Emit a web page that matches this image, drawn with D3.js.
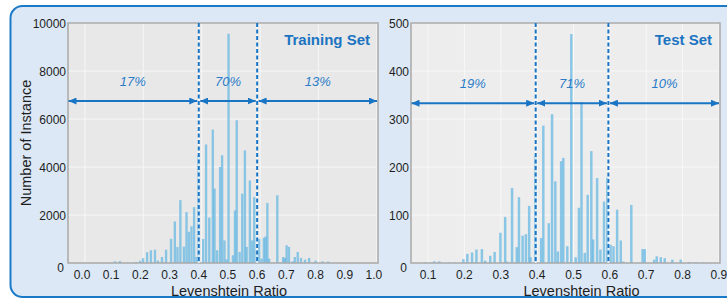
<!DOCTYPE html>
<html>
<head>
    <meta charset="utf-8">
    <title>Levenshtein Ratio histograms</title>
    <script src="https://d3js.org/d3.v7.min.js" charset="utf-8"></script>
</head>
<body>
    <style>
        html,
        body {
            margin: 0;
            padding: 0;
            background: #ffffff;
        }
        text {
            font-family: "Liberation Sans", Arial, sans-serif;
        }
        .tick-label {
            font-size: 12px;
            fill: #1e1e1e;
        }
        .axis-title {
            font-size: 14.5px;
            fill: #1e1e1e;
        }
        .panel-title {
            font-size: 15px;
            font-weight: bold;
            fill: #1b74c2;
        }
        .pct {
            font-size: 13px;
            font-style: italic;
            fill: #2a7cc8;
        }
    </style>
    <script>
      // Training set histogram (ratio, count)
      var trainRatio = [0.113, 0.130, 0.185, 0.199, 0.209, 0.223, 0.236, 0.250, 0.260, 0.274,
                        0.288, 0.305, 0.318, 0.327, 0.337, 0.349, 0.358, 0.366, 0.375, 0.384,
                        0.392, 0.399, 0.415, 0.425, 0.436, 0.448, 0.454, 0.463, 0.473, 0.480,
                        0.488, 0.495, 0.502, 0.517, 0.524, 0.530, 0.540, 0.549, 0.558, 0.564,
                        0.575, 0.583, 0.590, 0.599, 0.607, 0.615, 0.623, 0.629, 0.635, 0.641,
                        0.669, 0.689, 0.695, 0.701, 0.709, 0.722, 0.729, 0.739, 0.750, 0.764,
                        0.778, 0.800, 0.824, 0.843];
      var trainCount = [70, 80, 40, 90, 200, 450, 530, 555, 100, 250,
                        555, 1010, 1730, 670, 2620, 680, 2120, 1300, 1530, 2330,
                        250, 4500, 1000, 4940, 1890, 5560, 3100, 530, 4000, 4490,
                        940, 150, 9550, 320, 2190, 5950, 460, 2890, 4690, 670,
                        3440, 940, 2750, 530, 1010, 180, 1050, 1100, 2500, 180,
                        2820, 250, 210, 740, 670, 70, 250, 460, 210, 140,
                        210, 100, 70, 60];

      // Test set histogram (ratio, count)
      var testRatio = [0.092, 0.117, 0.131, 0.156, 0.174, 0.197, 0.208, 0.221, 0.233, 0.248,
                       0.257, 0.271, 0.283, 0.299, 0.312, 0.317, 0.331, 0.344, 0.350, 0.360,
                       0.369, 0.378, 0.382, 0.395, 0.411, 0.417, 0.432, 0.441, 0.450, 0.457,
                       0.466, 0.472, 0.483, 0.494, 0.506, 0.515, 0.522, 0.531, 0.539, 0.549,
                       0.554, 0.565, 0.574, 0.584, 0.593, 0.602, 0.610, 0.620, 0.630, 0.637,
                       0.659, 0.690, 0.696, 0.722, 0.729, 0.740, 0.751, 0.772, 0.795, 0.818,
                       0.837, 0.859];
      var testCount = [1, 3.5, 3.5, 1, 1, 8, 19, 22, 28, 29,
                       5, 15, 23, 63, 96, 3, 156, 33, 137, 57,
                       60, 119, 12, 222, 52, 286, 83, 310, 170, 24,
                       212, 219, 35, 477, 12, 115, 335, 21, 142, 233,
                       49, 177, 28, 128, 178, 38, 35, 111, 47, 3,
                       121, 29, 29, 7, 14, 12, 10, 7, 7, 2,
                       2, 1];

      // Axis ticks and split annotations
      var trainXTicks = [0.0, 0.1, 0.2, 0.3, 0.4, 0.5, 0.6, 0.7, 0.8, 0.9, 1.0];
      var testXTicks = [0.1, 0.2, 0.3, 0.4, 0.5, 0.6, 0.7, 0.8, 0.9];
      var trainYTicks = [0, 2000, 4000, 6000, 8000, 10000];
      var testYTicks = [0, 100, 200, 300, 400, 500];
      var trainSplits = [0.4, 0.6];
      var testSplits = [0.396, 0.596];
      var trainShares = ["17%", "70%", "13%"];
      var testShares = ["19%", "71%", "10%"];

      var svg = d3.select("body")
                  .append("svg")
                  .attr("width", 727)
                  .attr("height", 301);

      // arrow head marker
      svg.append("defs").append("marker")
         .attr("id", "head")
         .attr("viewBox", "0 0 8 7")
         .attr("refX", 8)
         .attr("refY", 3.5)
         .attr("markerWidth", 8)
         .attr("markerHeight", 7)
         .attr("markerUnits", "userSpaceOnUse")
         .attr("orient", "auto-start-reverse")
         .append("path")
         .attr("d", "M0,0 L8,3.5 L0,7 z")
         .attr("fill", "#1a74c4");

      // outer rounded frame
      svg.append("rect")
         .attr("x", 10.5)
         .attr("y", 6)
         .attr("width", 740)
         .attr("height", 291)
         .attr("rx", 12)
         .attr("fill", "#dce8f5")
         .attr("stroke", "#1a7ac8")
         .attr("stroke-width", 2);

      function drawPanel(cfg) {
        var x = d3.scaleLinear().domain(cfg.xDomain).range([cfg.left, cfg.right]);
        var y = d3.scaleLinear().domain([0, cfg.yMax]).range([263, 23]);
        var g = svg.append("g");

        // plot background
        g.append("rect")
         .attr("x", cfg.left)
         .attr("y", 23)
         .attr("width", cfg.right - cfg.left)
         .attr("height", 240)
         .attr("fill", cfg.bg);

        // grid
        g.selectAll(".gx").data(cfg.gridX).enter().append("line")
         .attr("x1", d => x(d)).attr("x2", d => x(d))
         .attr("y1", 23).attr("y2", 263)
         .attr("stroke", "#f7f7f7").attr("stroke-width", 1);
        g.selectAll(".gy").data(cfg.yTicks.slice(1)).enter().append("line")
         .attr("x1", cfg.left).attr("x2", cfg.right)
         .attr("y1", d => y(d)).attr("y2", d => y(d))
         .attr("stroke", "#f7f7f7").attr("stroke-width", 1);

        // bars
        var bw = cfg.barWidth;
        g.selectAll(".bar").data(cfg.ratio).enter().append("rect")
         .attr("x", d => x(d - bw / 2))
         .attr("width", d => x(d + bw / 2) - x(d - bw / 2))
         .attr("y", (d, i) => y(cfg.count[i]))
         .attr("height", (d, i) => y(0) - y(cfg.count[i]))
         .attr("fill", "#5ab3e2")
         .attr("fill-opacity", 0.68);

        // frame
        g.append("rect")
         .attr("x", cfg.left)
         .attr("y", 23)
         .attr("width", cfg.right - cfg.left)
         .attr("height", 240)
         .attr("fill", "none")
         .attr("stroke", "#a9a9a9")
         .attr("stroke-width", 1.5);

        // split lines
        g.selectAll(".split-bg").data(cfg.splits).enter().append("line")
         .attr("x1", d => x(d)).attr("x2", d => x(d))
         .attr("y1", 23).attr("y2", 263)
         .attr("stroke", "#ffffff").attr("stroke-opacity", 0.7).attr("stroke-width", 2);
        g.selectAll(".split").data(cfg.splits).enter().append("line")
         .attr("x1", d => x(d)).attr("x2", d => x(d))
         .attr("y1", 23).attr("y2", 263)
         .attr("stroke", "#1a74c4").attr("stroke-width", 2)
         .attr("stroke-dasharray", "4,2.5");

        // arrows between splits
        var edges = [cfg.xDomain[0]].concat(cfg.splits).concat([cfg.xDomain[1]]);
        var ay = y(cfg.arrowAt);
        for (var k = 0; k < 3; k++) {
          var a = x(edges[k]) + (k == 0 ? 0.5 : 1.5);
          var b = x(edges[k + 1]) - (k == 2 ? 1 : 1.5);
          g.append("line")
           .attr("x1", a).attr("x2", b)
           .attr("y1", ay).attr("y2", ay)
           .attr("stroke", "#1a74c4").attr("stroke-width", 2)
           .attr("marker-start", "url(#head)")
           .attr("marker-end", "url(#head)");
          g.append("text")
           .attr("class", "pct")
           .attr("x", (a + b) / 2)
           .attr("y", ay - 15)
           .attr("text-anchor", "middle")
           .text(cfg.shares[k]);
        }

        // panel title
        g.append("text")
         .attr("class", "panel-title")
         .attr("x", cfg.right - 8)
         .attr("y", 45)
         .attr("text-anchor", "end")
         .text(cfg.title);

        // y tick labels
        g.selectAll(".yl").data(cfg.yTicks).enter().append("text")
         .attr("class", "tick-label")
         .attr("x", d => d == 0 ? cfg.left - 4 : cfg.left - 2)
         .attr("y", d => y(d) + (d == 0 ? 9 : 4.5))
         .attr("text-anchor", "end")
         .text(d => d);

        // x tick labels
        g.selectAll(".xl").data(cfg.xTicks).enter().append("text")
         .attr("class", "tick-label")
         .attr("x", d => x(d))
         .attr("y", 279)
         .attr("text-anchor", "middle")
         .text(d => d3.format(".1f")(d));

        // x axis title
        g.append("text")
         .attr("class", "axis-title")
         .attr("x", (cfg.left + cfg.right) / 2 + cfg.titleShift)
         .attr("y", 296)
         .attr("text-anchor", "middle")
         .text("Levenshtein Ratio");
      }

      drawPanel({
        left: 68, right: 378, xDomain: [-0.048, 1.014], yMax: 10000,
        bg: "#e8e8e8", barWidth: 0.008,
        ratio: trainRatio, count: trainCount,
        xTicks: trainXTicks, yTicks: trainYTicks,
        gridX: [0.01, 0.21, 0.41, 0.61, 0.81, 1.01],
        splits: trainSplits, shares: trainShares, arrowAt: 6750,
        title: "Training Set", titleShift: 6
      });

      drawPanel({
        left: 411, right: 720, xDomain: [0.053, 0.903], yMax: 500,
        bg: "#ededed", barWidth: 0.0068,
        ratio: testRatio, count: testCount,
        xTicks: testXTicks, yTicks: testYTicks,
        gridX: testXTicks,
        splits: testSplits, shares: testShares, arrowAt: 333,
        title: "Test Set", titleShift: 16
      });

      // y axis title
      svg.append("text")
         .attr("class", "axis-title")
         .attr("transform", "translate(31,143) rotate(-90)")
         .attr("text-anchor", "middle")
         .text("Number of Instance");
    </script>
</body>
</html>
